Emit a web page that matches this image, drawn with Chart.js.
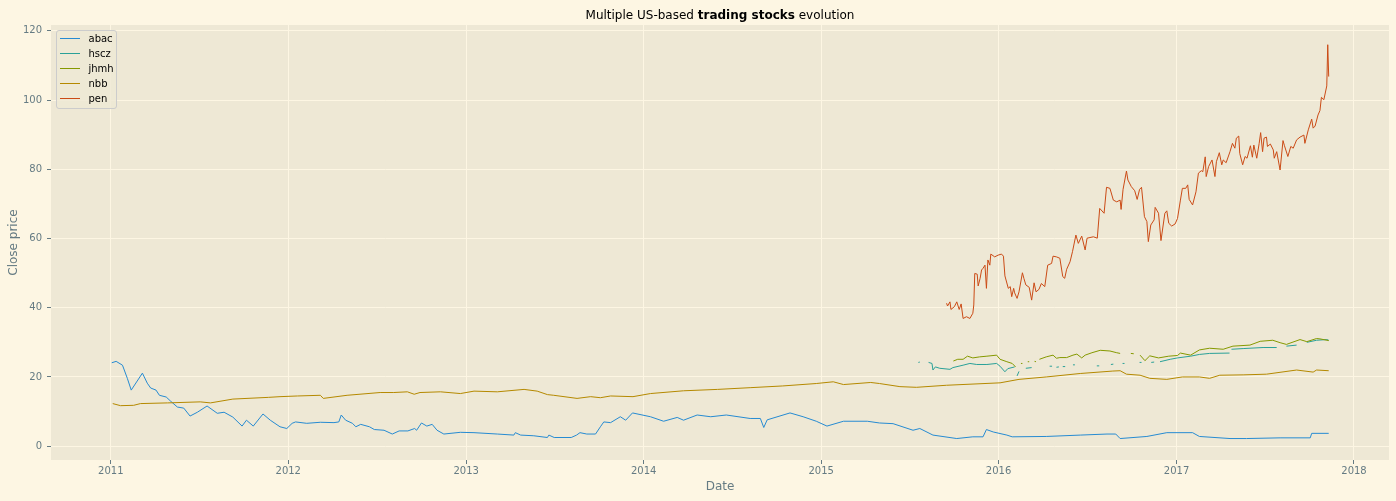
<!DOCTYPE html>
<html lang="en">
<head>
    <meta charset="UTF-8">
    <title>Multiple US-based trading stocks evolution</title>
    <script src="https://cdn.jsdelivr.net/npm/chart.js"></script>
    <style>
        body { margin: 0; background: #fdf6e3; }
        #wrap { width: 1396px; height: 501px; position: relative; }
    </style>
</head>
<body>
    <div id="wrap"><canvas id="stocks"></canvas></div>

    <script>
        // axis ticks
        const xTickYears = [2011, 2012, 2013, 2014, 2015, 2016, 2017, 2018];
        const yTicks = [0, 20, 40, 60, 80, 100, 120];

        // abac
        const abacDates = [
            '2011-01-03','2011-01-12','2011-01-25','2011-02-04','2011-02-12','2011-03-07','2011-03-17','2011-03-24','2011-04-04','2011-04-11',
            '2011-04-25','2011-05-04','2011-05-18','2011-05-31','2011-06-13','2011-06-28','2011-07-18','2011-08-08','2011-08-22','2011-09-09',
            '2011-09-28','2011-10-07','2011-10-21','2011-11-10','2011-11-25','2011-12-15','2011-12-29','2012-01-09','2012-01-16','2012-02-08',
            '2012-03-07','2012-04-04','2012-04-14','2012-04-19','2012-04-28','2012-05-12','2012-05-19','2012-05-29','2012-06-16','2012-06-26',
            '2012-07-16','2012-08-02','2012-08-16','2012-09-03','2012-09-17','2012-09-21','2012-10-01','2012-10-12','2012-10-23','2012-11-02',
            '2012-11-16','2012-12-20','2013-01-17','2013-03-06','2013-04-09','2013-04-12','2013-04-23','2013-05-20','2013-06-17','2013-06-20',
            '2013-07-01','2013-08-05','2013-08-16','2013-08-23','2013-09-06','2013-09-24','2013-10-04','2013-10-11','2013-10-25','2013-11-14',
            '2013-11-25','2013-12-09','2014-01-15','2014-02-11','2014-03-11','2014-03-24','2014-04-21','2014-05-19','2014-06-20','2014-08-08',
            '2014-08-29','2014-09-05','2014-09-12','2014-10-29','2014-11-25','2014-12-22','2015-01-13','2015-02-16','2015-04-06','2015-05-01',
            '2015-05-29','2015-07-09','2015-07-23','2015-08-19','2015-10-07','2015-11-09','2015-11-30','2015-12-07','2015-12-21','2016-01-18',
            '2016-01-29','2016-04-08','2016-06-17','2016-08-11','2016-08-29','2016-09-07','2016-11-01','2016-12-12','2017-02-03','2017-02-17',
            '2017-04-21','2017-05-25','2017-08-02','2017-10-03','2017-10-06','2017-11-10'
        ];
        const abacClose = [
            24.1, 24.5, 23.4, 19.6, 16.2, 21.1, 18.2, 16.8, 16.2, 14.7,
            14.2, 13.0, 11.3, 11.0, 8.7, 9.8, 11.6, 9.5, 9.8, 8.4,
            5.8, 7.5, 5.8, 9.3, 7.5, 5.6, 5.1, 6.6, 7.0, 6.6,
            6.9, 6.8, 7.0, 9.0, 7.5, 6.6, 5.6, 6.3, 5.6, 4.8,
            4.6, 3.5, 4.4, 4.4, 5.1, 4.6, 6.7, 5.8, 6.3, 4.6,
            3.5, 4.0, 3.9, 3.5, 3.2, 3.9, 3.2, 3.0, 2.5, 3.2,
            2.5, 2.5, 3.2, 3.9, 3.5, 3.5, 5.6, 7.0, 6.8, 8.5,
            7.5, 9.6, 8.5, 7.2, 8.3, 7.5, 9.0, 8.5, 9.0, 8.0,
            8.0, 5.4, 7.6, 9.6, 8.5, 7.2, 5.8, 7.2, 7.2, 6.7,
            6.5, 4.6, 5.1, 3.2, 2.2, 2.7, 2.7, 4.8, 4.1, 3.2,
            2.7, 2.8, 3.2, 3.5, 3.5, 2.2, 2.8, 3.9, 3.9, 2.8,
            2.2, 2.2, 2.4, 2.4, 3.7, 3.7
        ];

        // hscz (null = no quote, line breaks there)
        const hsczDates = [
            '2015-07-20','2015-07-23','2015-07-30','2015-08-10','2015-08-17','2015-08-19','2015-08-24','2015-09-02','2015-09-23','2015-09-29',
            '2015-10-20','2015-11-03','2015-11-17','2015-12-08','2015-12-28','2016-01-04','2016-01-14','2016-01-20','2016-02-03','2016-02-05',
            '2016-02-08','2016-02-12','2016-02-19','2016-02-26','2016-03-09','2016-03-20','2016-04-15','2016-04-20','2016-04-25','2016-04-29',
            '2016-05-04','2016-05-09','2016-05-12','2016-05-17','2016-05-25','2016-06-02','2016-06-06','2016-06-20','2016-07-21','2016-07-26',
            '2016-08-05','2016-08-19','2016-08-24','2016-09-01','2016-09-12','2016-09-16','2016-10-01','2016-10-17','2016-10-21','2016-11-01',
            '2016-11-10','2016-11-16','2016-11-21','2016-11-28','2016-12-19','2017-01-03','2017-01-30','2017-02-17','2017-03-10','2017-04-20',
            '2017-04-21','2017-04-24','2017-05-18','2017-06-28','2017-07-26','2017-08-04','2017-08-15','2017-09-05','2017-09-14','2017-09-26',
            '2017-10-16','2017-11-06','2017-11-10'
        ];
        const hsczClose = [
            24.2, 24.3, null, 24.2, 23.9, 22.0, 22.9, 22.5, 22.2, 22.7,
            23.4, 23.9, 23.6, 23.6, 23.9, 23.1, 21.5, 22.4, 22.9, null,
            20.3, 21.6, null, 22.5, 22.7, null, 23.1, 23.1, null, 22.8,
            22.9, null, 23.0, 23.0, null, 23.5, 23.5, null, 23.2, 23.2,
            null, 23.6, 23.7, null, 23.9, 23.9, null, 24.2, 24.2, null,
            24.2, 24.3, null, 24.4, 25.1, 25.5, 26.0, 26.5, 26.8, 26.9,
            null, 28.0, 28.2, 28.5, 28.5, null, 28.9, 29.2, null, 30.0,
            30.6, 30.8, 30.6
        ];

        // jhmh
        const jhmhDates = [
            '2015-09-30','2015-10-09','2015-10-20','2015-10-29','2015-11-09','2015-11-23','2015-12-08','2015-12-28','2016-01-04','2016-01-18',
            '2016-01-29','2016-02-05','2016-02-09','2016-02-16','2016-02-19','2016-02-24','2016-03-01','2016-03-04','2016-03-10','2016-03-15',
            '2016-03-18','2016-03-22','2016-03-25','2016-04-08','2016-04-22','2016-04-29','2016-05-06','2016-05-20','2016-06-02','2016-06-10',
            '2016-06-20','2016-06-27','2016-07-11','2016-07-28','2016-08-17','2016-08-31','2016-09-07','2016-09-15','2016-09-29','2016-10-05',
            '2016-10-11','2016-10-18','2016-10-28','2016-11-07','2016-11-25','2016-12-16','2017-01-03','2017-01-09','2017-01-30','2017-02-17',
            '2017-03-10','2017-04-07','2017-04-27','2017-06-01','2017-06-22','2017-07-18','2017-08-02','2017-08-15','2017-09-12','2017-09-26',
            '2017-10-16','2017-10-23','2017-11-10'
        ];
        const jhmhClose = [
            24.6, 25.1, 25.1, 26.0, 25.5, 25.8, 26.0, 26.3, 25.1, 24.4,
            23.9, 22.9, null, 23.9, 23.9, null, 24.4, 24.4, null, 24.5,
            24.4, null, 25.1, 25.8, 26.3, 25.4, 25.6, 25.6, 26.3, 26.6,
            25.5, 26.3, 27.0, 27.7, 27.5, 27.0, 26.8, null, 26.8, 26.7,
            null, 26.3, 24.7, 26.1, 25.5, 26.0, 26.2, 26.9, 26.3, 27.8,
            28.3, 28.0, 28.9, 29.2, 30.3, 30.6, 29.9, 29.4, 30.8, 30.2,
            31.1, 31.0, 30.5
        ];

        // nbb
        const nbbDates = [
            '2011-01-05','2011-01-21','2011-02-17','2011-03-03','2011-04-28','2011-07-04','2011-07-25','2011-09-09','2011-11-21','2011-12-15',
            '2012-01-20','2012-03-07','2012-03-13','2012-05-01','2012-07-08','2012-08-05','2012-09-02','2012-09-16','2012-09-28','2012-11-09',
            '2012-12-20','2013-01-17','2013-03-06','2013-04-30','2013-05-27','2013-06-17','2013-06-30','2013-08-17','2013-09-14','2013-10-04',
            '2013-10-25','2013-12-10','2014-01-15','2014-03-24','2014-06-02','2014-08-08','2014-10-14','2014-12-22','2015-01-26','2015-02-16',
            '2015-04-13','2015-05-01','2015-06-12','2015-07-16','2015-09-16','2016-01-04','2016-02-12','2016-04-08','2016-06-17','2016-08-23',
            '2016-09-07','2016-09-20','2016-10-18','2016-11-07','2016-12-12','2017-01-13','2017-02-17','2017-03-10','2017-03-31','2017-05-18',
            '2017-07-05','2017-09-05','2017-10-09','2017-10-16','2017-11-10'
        ];
        const nbbClose = [
            12.3, 11.7, 11.8, 12.3, 12.5, 12.8, 12.5, 13.6, 14.1, 14.3,
            14.5, 14.7, 13.8, 14.7, 15.5, 15.5, 15.7, 15.0, 15.5, 15.7,
            15.2, 15.9, 15.7, 16.4, 15.9, 14.9, 14.7, 13.8, 14.3, 14.0,
            14.5, 14.3, 15.2, 16.0, 16.4, 16.9, 17.4, 18.1, 18.6, 17.8,
            18.4, 18.1, 17.2, 17.0, 17.6, 18.3, 19.3, 20.0, 21.0, 21.7,
            21.8, 20.8, 20.5, 19.6, 19.3, 20.0, 20.0, 19.6, 20.5, 20.6,
            20.8, 22.0, 21.4, 22.0, 21.8
        ];

        // pen
        const penDates = [
            '2015-09-16','2015-09-18','2015-09-23','2015-09-25','2015-10-02','2015-10-07','2015-10-12','2015-10-16','2015-10-20','2015-10-27',
            '2015-11-03','2015-11-09','2015-11-11','2015-11-13','2015-11-18','2015-11-20','2015-11-24','2015-11-27','2015-11-30','2015-12-04',
            '2015-12-07','2015-12-10','2015-12-14','2015-12-16','2015-12-24','2015-12-31','2016-01-07','2016-01-11','2016-01-14','2016-01-21',
            '2016-01-25','2016-01-28','2016-02-01','2016-02-03','2016-02-08','2016-02-12','2016-02-19','2016-02-22','2016-02-26','2016-03-04',
            '2016-03-09','2016-03-14','2016-03-18','2016-03-24','2016-03-29','2016-04-05','2016-04-11','2016-04-19','2016-04-22','2016-04-29',
            '2016-05-06','2016-05-12','2016-05-16','2016-05-20','2016-05-27','2016-06-01','2016-06-08','2016-06-13','2016-06-20','2016-06-27',
            '2016-07-01','2016-07-14','2016-07-22','2016-07-27','2016-08-05','2016-08-10','2016-08-17','2016-08-24','2016-08-31','2016-09-07',
            '2016-09-09','2016-09-13','2016-09-20','2016-09-23','2016-09-30','2016-10-07','2016-10-12','2016-10-17','2016-10-21','2016-10-27',
            '2016-11-01','2016-11-04','2016-11-09','2016-11-16','2016-11-18','2016-11-25','2016-11-30','2016-12-08','2016-12-12','2016-12-16',
            '2016-12-22','2016-12-29','2017-01-03','2017-01-09','2017-01-13','2017-01-20','2017-01-24','2017-01-27','2017-02-03','2017-02-10',
            '2017-02-15','2017-02-21','2017-02-24','2017-03-01','2017-03-03','2017-03-08','2017-03-15','2017-03-21','2017-03-24','2017-03-30',
            '2017-04-04','2017-04-07','2017-04-13','2017-04-21','2017-04-26','2017-05-01','2017-05-04','2017-05-09','2017-05-11','2017-05-17',
            '2017-05-22','2017-05-26','2017-06-02','2017-06-06','2017-06-09','2017-06-15','2017-06-20','2017-06-23','2017-06-27','2017-06-30',
            '2017-07-05','2017-07-07','2017-07-13','2017-07-19','2017-07-21','2017-07-26','2017-08-02','2017-08-08','2017-08-11','2017-08-18',
            '2017-08-24','2017-08-29','2017-09-05','2017-09-12','2017-09-20','2017-09-22','2017-09-29','2017-10-06','2017-10-09','2017-10-13',
            '2017-10-19','2017-10-23','2017-10-26','2017-10-31','2017-11-06','2017-11-08','2017-11-10'
        ];
        const penClose = [
            41.3, 40.5, 41.7, 39.5, 40.3, 41.7, 39.5, 41.1, 36.9, 37.4,
            36.9, 38.4, 40.8, 49.9, 49.7, 46.3, 48.5, 50.9, 51.4, 52.3,
            45.6, 53.8, 52.3, 55.5, 54.7, 55.2, 55.5, 54.9, 49.2, 45.6,
            46.1, 43.2, 45.6, 44.3, 42.7, 44.6, 50.1, 48.5, 46.6, 45.9,
            42.2, 47.2, 44.6, 45.3, 47.0, 46.1, 52.3, 52.8, 54.9, 54.7,
            54.3, 49.0, 48.5, 51.1, 53.3, 56.2, 61.0, 58.6, 60.7, 56.7,
            60.1, 60.5, 60.1, 68.7, 67.3, 74.8, 74.5, 71.1, 70.6, 71.1,
            68.4, 74.2, 79.5, 76.9, 75.0, 73.8, 71.3, 74.2, 74.8, 66.3,
            64.9, 59.1, 63.9, 65.4, 69.0, 67.3, 59.4, 67.3, 68.0, 64.4,
            63.6, 64.2, 65.8, 71.1, 74.5, 74.5, 75.5, 71.3, 69.7, 73.5,
            78.9, 79.6, 79.3, 83.6, 77.9, 80.8, 82.7, 77.9, 82.2, 84.8,
            81.3, 82.7, 81.9, 85.1, 87.5, 86.1, 89.0, 89.6, 84.6, 81.3,
            83.7, 83.2, 86.8, 83.5, 87.0, 83.2, 87.5, 90.6, 85.1, 89.0,
            89.3, 86.6, 87.3, 85.6, 83.2, 85.1, 79.8, 88.3, 86.8, 83.7,
            86.6, 86.1, 88.5, 89.3, 89.9, 87.5, 91.4, 94.5, 91.9, 92.5,
            95.7, 97.0, 100.8, 100.1, 104.1, 116.0, 106.8
        ];

        const FONT = '"DejaVu Sans", "Liberation Sans", sans-serif';
        const TICK_COLOR = '#657b83';

        function points(dates, values) {
            return dates.map((d, i) => ({ x: Date.parse(d), y: values[i] }));
        }

        function line(label, dates, values, color, order) {
            return {
                label: label,
                data: points(dates, values),
                borderColor: color,
                backgroundColor: color,
                borderWidth: 1,
                borderJoinStyle: 'round',
                pointRadius: 0,
                pointHoverRadius: 0,
                tension: 0,
                spanGaps: false,
                order: order
            };
        }

        // axes face
        const panelBg = {
            id: 'panelBg',
            beforeDraw(chart) {
                const { ctx, chartArea: a } = chart;
                ctx.save();
                ctx.fillStyle = '#eee8d5';
                ctx.fillRect(a.left, a.top, a.right - a.left, a.bottom - a.top);
                ctx.restore();
            }
        };

        // title with a bold middle part
        const mixedTitle = {
            id: 'mixedTitle',
            afterDraw(chart) {
                const { ctx, chartArea: a } = chart;
                const parts = [['Multiple US-based ', 'normal'], ['trading stocks', 'bold'], [' evolution', 'normal']];
                ctx.save();
                ctx.fillStyle = '#000000';
                ctx.textBaseline = 'alphabetic';
                ctx.textAlign = 'left';
                const widths = parts.map(([t, w]) => {
                    ctx.font = w + ' 12px ' + FONT;
                    return ctx.measureText(t).width;
                });
                const total = widths.reduce((s, w) => s + w, 0);
                let x = (a.left + a.right) / 2 - total / 2;
                parts.forEach(([t, w], i) => {
                    ctx.font = w + ' 12px ' + FONT;
                    ctx.fillText(t, x, 18.5);
                    x += widths[i];
                });
                ctx.restore();
            }
        };

        // matplotlib-like legend box in the upper left corner
        const boxLegend = {
            id: 'boxLegend',
            afterDraw(chart) {
                const { ctx, chartArea: a } = chart;
                const sets = chart.data.datasets;
                const x0 = a.left + 5.5, y0 = a.top + 5.5, w = 60, h = 78;
                ctx.save();
                ctx.beginPath();
                ctx.roundRect(x0, y0, w, h, 2.5);
                ctx.fillStyle = 'rgba(238, 232, 213, 0.8)';
                ctx.fill();
                ctx.strokeStyle = '#cccccc';
                ctx.lineWidth = 1;
                ctx.stroke();
                ctx.font = '10px ' + FONT;
                ctx.textBaseline = 'middle';
                sets.forEach((ds, i) => {
                    const y = a.top + 13.5 + i * 15;
                    ctx.beginPath();
                    ctx.moveTo(x0 + 3.5, y);
                    ctx.lineTo(x0 + 23.5, y);
                    ctx.strokeStyle = ds.borderColor;
                    ctx.stroke();
                    ctx.fillStyle = '#000000';
                    ctx.fillText(ds.label, x0 + 32, y + 0.5);
                });
                ctx.restore();
            }
        };

        document.addEventListener('DOMContentLoaded', function () {
            const ctx = document.getElementById('stocks').getContext('2d');
            new Chart(ctx, {
                type: 'line',
                data: {
                    datasets: [
                        line('abac', abacDates, abacClose, '#268bd2', 4),
                        line('hscz', hsczDates, hsczClose, '#2aa198', 3),
                        line('jhmh', jhmhDates, jhmhClose, '#859900', 2),
                        line('nbb', nbbDates, nbbClose, '#b58900', 1),
                        line('pen', penDates, penClose, '#cb4b16', 0)
                    ]
                },
                options: {
                    responsive: true,
                    maintainAspectRatio: false,
                    animation: false,
                    events: [],
                    layout: { padding: { top: 25, right: 7, left: 0, bottom: 0 } },
                    plugins: {
                        legend: { display: false },
                        title: { display: false },
                        tooltip: { enabled: false }
                    },
                    scales: {
                        x: {
                            type: 'linear',
                            min: Date.parse('2010-08-31'),
                            max: Date.parse('2018-03-14'),
                            afterBuildTicks: s => { s.ticks = xTickYears.map(y => ({ value: Date.parse(y + '-01-01') })); },
                            afterFit: s => { s.height = 41; },
                            ticks: {
                                autoSkip: false,
                                maxRotation: 0,
                                padding: 1,
                                color: TICK_COLOR,
                                font: { family: FONT, size: 10 },
                                callback: v => String(new Date(v).getUTCFullYear())
                            },
                            grid: { color: '#fdf6e3', lineWidth: 1, tickColor: TICK_COLOR, tickLength: 4 },
                            border: { display: false },
                            title: {
                                display: true,
                                text: 'Date',
                                color: TICK_COLOR,
                                font: { family: FONT, size: 12 },
                                padding: { top: 0, bottom: 7 }
                            }
                        },
                        y: {
                            min: -4.0,
                            max: 121.7,
                            afterBuildTicks: s => { s.ticks = yTicks.map(v => ({ value: v })); },
                            afterFit: s => { s.width = 51; },
                            ticks: {
                                padding: 5,
                                color: TICK_COLOR,
                                font: { family: FONT, size: 10 },
                                callback: v => String(v)
                            },
                            grid: { color: '#fdf6e3', lineWidth: 1, tickColor: TICK_COLOR, tickLength: 4 },
                            border: { display: false },
                            title: {
                                display: true,
                                text: 'Close price',
                                color: TICK_COLOR,
                                font: { family: FONT, size: 12 },
                                padding: { top: 7, bottom: 0 }
                            }
                        }
                    }
                },
                plugins: [panelBg, mixedTitle, boxLegend]
            });
        });
    </script>
</body>
</html>
